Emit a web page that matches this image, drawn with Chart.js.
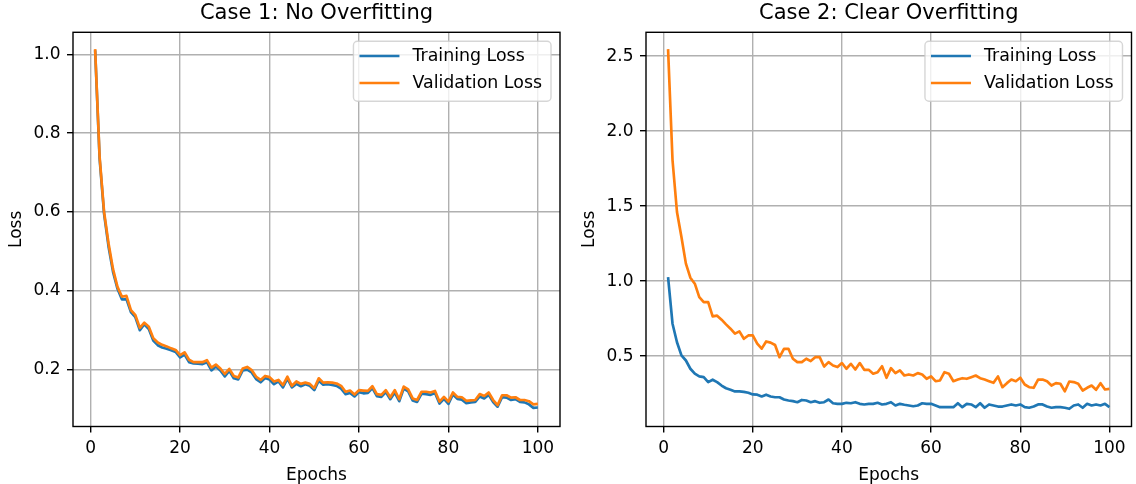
<!DOCTYPE html>
<html>
<head>
<meta charset="utf-8">
<script src="https://cdn.jsdelivr.net/npm/chart.js@4.4.1/dist/chart.umd.min.js"></script>
<style>
    body { margin: 0; background: #fff; }
    #wrap { position: relative; width: 1136px; height: 484px; }
    canvas { position: absolute; top: 0; }
    #leftChart { left: 0; }
    #rightChart { left: 568px; }
</style>
</head>
<body>
<div id="wrap">
    <canvas id="leftChart" width="568" height="484"></canvas>
    <canvas id="rightChart" width="568" height="484"></canvas>
</div>
<script>
const epochs = Array.from({ length: 100 }, (_, i) => i + 1);
const epochTicks = [0, 20, 40, 60, 80, 100];

// Case 1: both curves fall together
const trainLoss1 = [
    1.010, 0.735, 0.595, 0.512, 0.448, 0.405, 0.378, 0.379, 0.346, 0.333,
    0.300, 0.315, 0.303, 0.274, 0.262, 0.256, 0.253, 0.249, 0.245, 0.231,
    0.238, 0.219, 0.216, 0.215, 0.214, 0.219, 0.198, 0.208, 0.198, 0.183,
    0.197, 0.178, 0.175, 0.198, 0.200, 0.193, 0.176, 0.168, 0.179, 0.175,
    0.163, 0.170, 0.155, 0.177, 0.155, 0.164, 0.158, 0.163, 0.159, 0.148,
    0.172, 0.162, 0.163, 0.161, 0.159, 0.152, 0.138, 0.141, 0.132, 0.143,
    0.140, 0.141, 0.153, 0.133, 0.131, 0.143, 0.125, 0.142, 0.120, 0.152,
    0.145, 0.122, 0.118, 0.139, 0.138, 0.136, 0.141, 0.114, 0.126, 0.113,
    0.137, 0.126, 0.124, 0.115, 0.117, 0.118, 0.132, 0.127, 0.136, 0.118,
    0.106, 0.130, 0.129, 0.123, 0.125, 0.118, 0.117, 0.112, 0.103, 0.104
];
const valLoss1 = [
    1.013, 0.740, 0.600, 0.520, 0.455, 0.410, 0.385, 0.387, 0.351, 0.338,
    0.306, 0.319, 0.309, 0.280, 0.269, 0.263, 0.259, 0.254, 0.250, 0.237,
    0.244, 0.225, 0.219, 0.219, 0.219, 0.224, 0.205, 0.213, 0.203, 0.189,
    0.202, 0.184, 0.180, 0.203, 0.207, 0.199, 0.182, 0.174, 0.184, 0.181,
    0.170, 0.174, 0.161, 0.182, 0.159, 0.170, 0.164, 0.167, 0.164, 0.153,
    0.178, 0.167, 0.168, 0.167, 0.165, 0.159, 0.144, 0.147, 0.137, 0.148,
    0.147, 0.146, 0.158, 0.138, 0.136, 0.148, 0.130, 0.148, 0.125, 0.157,
    0.150, 0.127, 0.123, 0.144, 0.144, 0.142, 0.146, 0.119, 0.131, 0.119,
    0.142, 0.131, 0.130, 0.121, 0.122, 0.123, 0.138, 0.133, 0.142, 0.123,
    0.110, 0.135, 0.135, 0.129, 0.130, 0.123, 0.123, 0.120, 0.112, 0.113
];
const lossTicks1 = [0.2, 0.4, 0.6, 0.8, 1.0];

// Case 2: validation stays well above training
const trainLoss2 = [
    1.027, 0.716, 0.593, 0.505, 0.471, 0.416, 0.383, 0.365, 0.360, 0.327,
    0.343, 0.327, 0.304, 0.286, 0.276, 0.265, 0.265, 0.262, 0.256, 0.245,
    0.243, 0.231, 0.243, 0.231, 0.226, 0.226, 0.211, 0.204, 0.200, 0.193,
    0.208, 0.204, 0.193, 0.200, 0.189, 0.193, 0.211, 0.186, 0.182, 0.182,
    0.189, 0.186, 0.193, 0.182, 0.178, 0.182, 0.182, 0.189, 0.178, 0.182,
    0.193, 0.171, 0.182, 0.176, 0.171, 0.166, 0.171, 0.186, 0.182, 0.182,
    0.171, 0.160, 0.160, 0.160, 0.160, 0.186, 0.160, 0.182, 0.178, 0.160,
    0.186, 0.156, 0.178, 0.171, 0.164, 0.164, 0.171, 0.178, 0.171, 0.178,
    0.160, 0.156, 0.164, 0.178, 0.178, 0.164, 0.156, 0.160, 0.160, 0.156,
    0.149, 0.171, 0.178, 0.156, 0.182, 0.171, 0.178, 0.171, 0.182, 0.160
];
const valLoss2 = [
    2.547, 1.806, 1.461, 1.294, 1.117, 1.023, 0.983, 0.894, 0.860, 0.860,
    0.765, 0.770, 0.743, 0.712, 0.683, 0.650, 0.665, 0.616, 0.638, 0.638,
    0.583, 0.550, 0.598, 0.590, 0.574, 0.493, 0.549, 0.549, 0.483, 0.460,
    0.460, 0.483, 0.467, 0.493, 0.493, 0.431, 0.460, 0.438, 0.427, 0.454,
    0.416, 0.449, 0.411, 0.454, 0.409, 0.409, 0.383, 0.393, 0.433, 0.356,
    0.420, 0.387, 0.405, 0.371, 0.378, 0.371, 0.387, 0.378, 0.349, 0.365,
    0.333, 0.338, 0.393, 0.383, 0.333, 0.344, 0.353, 0.349, 0.360, 0.371,
    0.353, 0.344, 0.333, 0.322, 0.365, 0.293, 0.320, 0.344, 0.333, 0.356,
    0.311, 0.293, 0.289, 0.344, 0.344, 0.333, 0.304, 0.320, 0.316, 0.266,
    0.331, 0.327, 0.316, 0.271, 0.289, 0.304, 0.276, 0.320, 0.278, 0.282
];
const lossTicks2 = [0.5, 1.0, 1.5, 2.0, 2.5];

const BLUE = "#1f77b4";
const ORANGE = "#ff7f0e";
const FONT = "'DejaVu Sans', sans-serif";

Chart.defaults.font.family = FONT;
Chart.defaults.color = "#000";

// matplotlib-style legend box in the upper right corner
const legendBox = {
    id: "legendBox",
    afterDatasetsDraw(chart) {
        const { ctx, chartArea } = chart;
        const sets = chart.data.datasets;
        ctx.save();
        ctx.font = "17.4px " + FONT;
        const textW = Math.max(...sets.map(d => ctx.measureText(d.label).width));
        const w = 6 + 40 + 13 + textW + 9;
        const h = 60;
        const x = chartArea.right - 9 - w;
        const y = chartArea.top + 9;
        ctx.beginPath();
        ctx.roundRect(x, y, w, h, 4);
        ctx.fillStyle = "rgba(255,255,255,0.8)";
        ctx.fill();
        ctx.lineWidth = 1.4;
        ctx.strokeStyle = "rgba(204,204,204,0.8)";
        ctx.stroke();
        sets.forEach((d, i) => {
            const rowY = y + 14.7 + i * 27;
            ctx.beginPath();
            ctx.moveTo(x + 6, rowY);
            ctx.lineTo(x + 46, rowY);
            ctx.strokeStyle = d.borderColor;
            ctx.lineWidth = 2.67;
            ctx.stroke();
            ctx.fillStyle = "#000";
            ctx.textBaseline = "middle";
            ctx.textAlign = "left";
            ctx.fillText(d.label, x + 59, rowY);
        });
        ctx.restore();
    }
};

// full box around the plot area
const frame = {
    id: "frame",
    afterDraw(chart) {
        const { ctx, chartArea } = chart;
        ctx.save();
        ctx.strokeStyle = "#000";
        ctx.lineWidth = 1.4;
        ctx.strokeRect(chartArea.left, chartArea.top,
            chartArea.right - chartArea.left, chartArea.bottom - chartArea.top);
        ctx.restore();
    }
};

function makeChart(id, cfg) {
    return new Chart(document.getElementById(id), {
        type: "line",
        data: {
            labels: epochs,
            datasets: [
                {
                    label: "Training Loss",
                    data: cfg.train,
                    borderColor: BLUE,
                    backgroundColor: BLUE,
                    borderWidth: 2.67,
                    pointRadius: 0,
                    borderJoinStyle: "round",
                    tension: 0,
                    order: 1
                },
                {
                    label: "Validation Loss",
                    data: cfg.val,
                    borderColor: ORANGE,
                    backgroundColor: ORANGE,
                    borderWidth: 2.67,
                    pointRadius: 0,
                    borderJoinStyle: "round",
                    tension: 0,
                    order: 0
                }
            ]
        },
        options: {
            responsive: false,
            animation: false,
            events: [],
            layout: { padding: { left: 0, right: cfg.padRight, top: 0, bottom: 0 } },
            plugins: {
                legend: { display: false },
                tooltip: { enabled: false },
                title: {
                    display: true,
                    text: cfg.title,
                    fullSize: false,
                    color: "#000",
                    font: { size: 21, weight: "normal", lineHeight: 1.2 },
                    padding: { top: 1.3, bottom: 5.8 }
                }
            },
            scales: {
                x: {
                    type: "linear",
                    min: -3.95,
                    max: 104.95,
                    afterBuildTicks: s => { s.ticks = epochTicks.map(v => ({ value: v })); },
                    afterFit: s => { s.height = 57.5; },
                    ticks: { autoSkip: false, maxRotation: 0, padding: 6, font: { size: 17 } },
                    grid: { color: "#b0b0b0", lineWidth: 1.4, tickColor: "#000", tickLength: 6, tickWidth: 1.4 },
                    border: { display: false },
                    title: {
                        display: true,
                        text: "Epochs",
                        font: { size: 17, lineHeight: 1 },
                        padding: { top: 0, bottom: 0 }
                    }
                },
                y: {
                    type: "linear",
                    min: cfg.yMin,
                    max: cfg.yMax,
                    afterBuildTicks: s => { s.ticks = cfg.yTicks.map(v => ({ value: v })); },
                    afterFit: s => { s.width = cfg.yWidth; },
                    ticks: { autoSkip: false, padding: 6.5, font: { size: 17 }, callback: v => v.toFixed(1) },
                    grid: { color: "#b0b0b0", lineWidth: 1.4, tickColor: "#000", tickLength: 6, tickWidth: 1.4 },
                    border: { display: false },
                    title: {
                        display: true,
                        text: "Loss",
                        font: { size: 17, lineHeight: 1 },
                        padding: { top: cfg.yTitlePad, bottom: 0 }
                    }
                }
            }
        },
        plugins: [legendBox, frame]
    });
}

makeChart("leftChart", {
    title: "Case 1: No Overfitting",
    train: trainLoss1,
    val: valLoss1,
    yTicks: lossTicks1,
    yMin: 0.0558,
    yMax: 1.0557,
    yWidth: 73,
    yTitlePad: 8.5,
    padRight: 8
});

makeChart("rightChart", {
    title: "Case 2: Clear Overfitting",
    train: trainLoss2,
    val: valLoss2,
    yTicks: lossTicks2,
    yMin: 0.031,
    yMax: 2.659,
    yWidth: 78,
    yTitlePad: 13.5,
    padRight: 4.5
});
</script>
</body>
</html>
